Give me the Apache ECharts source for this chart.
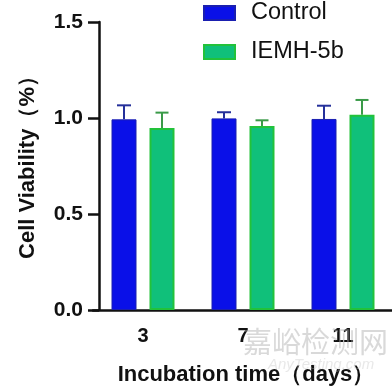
<!DOCTYPE html>
<html>
<head>
<meta charset="utf-8">
<script src="https://cdn.jsdelivr.net/npm/echarts@6/dist/echarts.min.js"></script>
<style>
html,body{margin:0;padding:0;background:#fff;}
#c{width:392px;height:386px;}
</style>
</head>
<body>
<div id="c"></div>
<script>
var categories = ['3', '7', '11'];
var controlMean = [0.993, 0.998, 0.995];
var controlErr = [0.073, 0.032, 0.069];
var iemhMean = [0.948, 0.958, 1.017];
var iemhErr = [0.080, 0.030, 0.077];
var yTicks = [0, 0.5, 1.0, 1.5];

var FONT = 'Liberation Sans, Arial, sans-serif';

function errSeries(name, means, errs, side, color, capW) {
  var data = means.map(function (m, i) { return [i, m, m + errs[i]]; });
  return {
    type: 'custom',
    name: name + ' err',
    z: 5,
    silent: true,
    data: data,
    renderItem: function (params, api) {
      var i = api.value(0);
      var band = api.size([1, 0])[0];
      var off = side * band * 0.19;
      var p0 = api.coord([i, api.value(1)]);
      var p1 = api.coord([i, api.value(2)]);
      var x = p0[0] + off;
      var st = { stroke: color, lineWidth: 2 };
      return {
        type: 'group',
        children: [
          { type: 'line', shape: { x1: x, y1: p0[1], x2: x, y2: p1[1] }, style: st },
          { type: 'line', shape: { x1: x - capW / 2, y1: p1[1], x2: x + capW / 2, y2: p1[1] }, style: st }
        ]
      };
    }
  };
}

var chart = echarts.init(document.getElementById('c'));
chart.setOption({
  animation: false,
  backgroundColor: '#ffffff',
  grid: { left: 93, top: 22, width: 300, height: 288, containLabel: false, outerBoundsMode: 'none' },
  legend: {
    orient: 'vertical',
    left: 203,
    top: 1,
    padding: 0,
    icon: 'rect',
    itemWidth: 31,
    itemHeight: 14,
    itemGap: 15,
    data: ['Control', 'IEMH-5b'],
    textStyle: { fontFamily: FONT, fontSize: 23.5, color: '#111', padding: [0, 0, 0, 11] }
  },
  xAxis: {
    type: 'category',
    data: categories,
    name: 'Incubation time（days）',
    nameLocation: 'middle',
    nameGap: 54,
    nameTextStyle: { fontFamily: FONT, fontSize: 22, fontWeight: 'bold', color: '#111', padding: [0, 0, 0, 6] },
    axisLine: { lineStyle: { color: '#111', width: 2.5 } },
    axisTick: { alignWithLabel: true, length: 10, lineStyle: { color: '#111', width: 2.5 } },
    axisLabel: { fontFamily: FONT, fontSize: 20, fontWeight: 'bold', color: '#111', margin: 16 },
    splitLine: { show: false }
  },
  yAxis: {
    type: 'value',
    min: 0,
    max: 1.5,
    interval: 0.5,
    offset: -6,
    name: 'Cell Viability（%）',
    nameLocation: 'middle',
    nameGap: 60,
    nameTextStyle: { fontFamily: FONT, fontSize: 22, fontWeight: 'bold', color: '#111', padding: [0, 0, 0, 8] },
    axisLine: { show: true, lineStyle: { color: '#111', width: 2.5 } },
    axisTick: { show: true, length: 11, lineStyle: { color: '#111', width: 2.5 } },
    axisLabel: {
      fontFamily: FONT, fontSize: 21, fontWeight: 'bold', color: '#111', margin: 16,
      formatter: function (v) { return v.toFixed(1); }
    },
    splitLine: { show: false }
  },
  series: [
    {
      name: 'Control',
      type: 'bar',
      data: controlMean,
      barWidth: 25,
      barGap: '52%',
      itemStyle: { color: '#0a10e8', borderColor: '#1a1fb0', borderWidth: 1 }
    },
    {
      name: 'IEMH-5b',
      type: 'bar',
      data: iemhMean,
      barWidth: 25,
      barGap: '52%',
      itemStyle: { color: '#10c07a', borderColor: '#22c23a', borderWidth: 2 }
    },
    errSeries('Control', controlMean, controlErr, -1, '#25309a', 14),
    errSeries('IEMH-5b', iemhMean, iemhErr, 1, '#3a9a48', 13)
  ],
  graphic: [
    {
      type: 'text', left: 243, top: 327, silent: true, z: 100,
      style: { text: '嘉峪检测网', fontFamily: 'Noto Sans CJK SC', fontSize: 29, fill: 'rgba(170,170,170,0.45)' }
    },
    {
      type: 'text', left: 268, top: 357, silent: true, z: 100,
      style: { text: 'AnyTesting.com', fontFamily: FONT, fontStyle: 'italic', fontSize: 15, fill: 'rgba(190,190,190,0.35)' }
    }
  ]
});
</script>
</body>
</html>
